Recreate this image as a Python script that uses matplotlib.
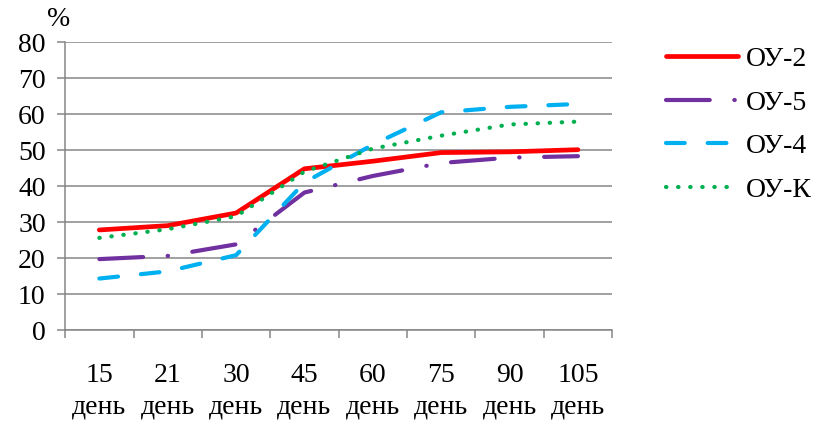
import matplotlib.pyplot as plt
from matplotlib.ticker import FixedLocator

plt.rcParams['font.family'] = ['Liberation Serif', 'DejaVu Serif']

# Days of observation and share of each group, %
days = ['15', '21', '30', '45', '60', '75', '90', '105']
oy2 = [27.8, 29.0, 32.5, 44.8, 46.9, 49.3, 49.5, 50.1]
oy5 = [19.7, 20.6, 23.8, 38.2, 42.8, 46.4, 47.9, 48.3]
oy4 = [14.3, 16.3, 20.8, 41.0, 51.5, 60.5, 62.0, 62.8]
oyk = [25.6, 28.0, 31.6, 44.0, 50.4, 54.0, 57.1, 57.9]

x = list(range(len(days)))
grey = '#868686'

fig = plt.figure(figsize=(8.25, 4.25), dpi=100)
ax = fig.add_axes([0.079, 0.2235, 0.663, 0.6775])

lw = 3.0
ax.plot(x, oy2, color='#FF0000', lw=3.4, solid_capstyle='round', label='ОУ-2', zorder=3)
ax.plot(x, oy5, color='#7030A0', lw=lw, linestyle=(0, (10.5, 5.9, 0.1, 5.9)),
        dash_capstyle='round', label='ОУ-5', zorder=3)
ax.plot(x, oy4, color='#00B0F0', lw=lw, linestyle=(0, (4.5, 5.5)),
        dash_capstyle='round', label='ОУ-4', zorder=3)
ax.plot(x, oyk, color='#00B050', lw=lw, linestyle=(0, (0.1, 2.8)),
        dash_capstyle='round', label='ОУ-К', zorder=3)

ax.set_xlim(-0.5, len(days) - 0.5)
ax.set_ylim(0, 80)
ax.set_yticks(range(0, 81, 10))
ax.grid(axis='y', color=grey, lw=1.1)
ax.set_axisbelow(True)

ax.set_xticks(x)
ax.set_xticklabels([d + '\nдень' for d in days], fontsize=20, linespacing=1.3)
ax.xaxis.set_minor_locator(FixedLocator([i - 0.5 for i in range(len(days) + 1)]))
ax.tick_params(axis='x', which='major', length=0, pad=24)
ax.tick_params(axis='x', which='minor', length=6, width=1.1, color=grey)
ax.tick_params(axis='y', length=6, width=1.1, color=grey, labelsize=20, pad=8)

for side in ['top', 'right']:
    ax.spines[side].set_visible(False)
for side in ['left', 'bottom']:
    ax.spines[side].set_color(grey)
    ax.spines[side].set_linewidth(1.1)

fig.text(0.071, 0.925, '%', fontsize=20, ha='center', va='bottom')

fig.legend(loc='upper left', bbox_to_anchor=(0.807, 0.89), frameon=False,
           fontsize=20, handlelength=2.6, handletextpad=0.3, labelspacing=0.65,
           borderpad=0, borderaxespad=0)

fig.savefig('out.png', dpi=100)
